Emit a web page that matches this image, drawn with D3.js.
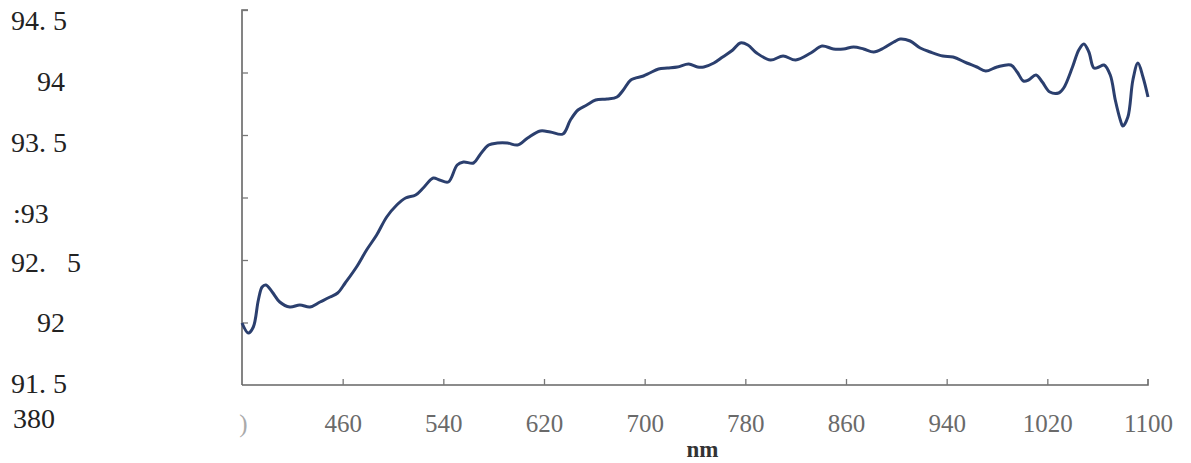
<!DOCTYPE html>
<html>
<head>
<meta charset="utf-8">
<script src="https://cdn.jsdelivr.net/npm/d3@7/dist/d3.min.js"></script>
<style>
  html, body { margin: 0; padding: 0; background: #fff; }
  svg { display: block; }
</style>
</head>
<body>
<svg id="chart" width="1191" height="463"></svg>
<script>
// ---- data ----
const wavelengths = [380,385,389,393,396,399,404,410,418,426,434,442,450,456,462,471,479,487,495,503,510,518,524,532,537,544,551,556,564,569,576,583,591,599,607,617,625,635,641,647,654,661,670,678,683,689,699,704,711,718,726,735,742,747,755,762,770,776,782,789,800,810,820,832,841,850,858,866,874,882,890,898,903,911,919,927,937,945,956,964,971,980,991,996,1001,1005,1011,1016,1022,1029,1033,1040,1045,1049,1053,1057,1061,1065,1070,1074,1078,1080,1084,1088,1092,1096,1100];
const reflectance = [91.996,91.916,91.964,92.18,92.284,92.30,92.244,92.164,92.124,92.14,92.124,92.164,92.204,92.236,92.316,92.444,92.58,92.70,92.844,92.94,92.996,93.02,93.076,93.156,93.14,93.124,93.26,93.284,93.276,93.34,93.42,93.436,93.436,93.42,93.476,93.532,93.524,93.508,93.62,93.70,93.74,93.78,93.788,93.804,93.86,93.94,93.972,93.996,94.028,94.036,94.044,94.068,94.044,94.044,94.076,94.124,94.18,94.236,94.22,94.156,94.10,94.132,94.10,94.156,94.212,94.188,94.188,94.204,94.188,94.164,94.196,94.244,94.268,94.252,94.196,94.164,94.132,94.124,94.076,94.044,94.012,94.044,94.06,94.004,93.932,93.94,93.98,93.924,93.844,93.836,93.876,94.044,94.18,94.228,94.164,94.036,94.044,94.06,93.98,93.78,93.62,93.572,93.644,93.94,94.076,93.964,93.804];
const xTickValues = [380,460,540,620,700,780,860,940,1020,1100];
const xTickLabels = [")","460","540","620","700","780","860","940","1020","1100"];
const yTickValues = [94.5,94,93.5,93,92.5,92,91.5];
const yTickLabels = ["94. 5","94","93. 5",":93","92.   5","92","91. 5"];
const strayLabel = "380";
const xAxisTitle = "nm";

// ---- layout ----
const svg = d3.select("#chart");
const plot = { left: 242, right: 1148, top: 10, bottom: 385 };
const x = d3.scaleLinear().domain([380, 1100]).range([plot.left, plot.right]);
const y = d3.scaleLinear().domain([91.5, 94.5]).range([plot.bottom, plot.top]);

svg.append("rect").attr("width", 1191).attr("height", 463).attr("fill", "#fff");

// y axis (ticks pointing inward, labels drawn separately at far left)
const yAxis = d3.axisRight(y).tickValues(yTickValues).tickSize(6).tickFormat("");
const gy = svg.append("g").attr("transform", `translate(${plot.left},0)`).call(yAxis);
gy.select(".domain").attr("stroke", "#666").attr("stroke-width", 1.6).attr("d", `M6,${plot.top}H0V${plot.bottom}`);
gy.selectAll(".tick line").attr("stroke", "#777").attr("stroke-width", 1.3);
gy.selectAll(".tick").filter(d => d === 91.5).remove();

// x axis (ticks pointing up)
const xAxis = d3.axisBottom(x).tickValues(xTickValues).tickSize(0).tickPadding(0)
  .tickFormat((d, i) => xTickLabels[i]);
const gx = svg.append("g").attr("transform", `translate(0,${plot.bottom})`).call(xAxis);
gx.select(".domain").attr("stroke", "#666").attr("stroke-width", 1.6).attr("d", `M${plot.left},0H${plot.right}V-6`);
gx.selectAll(".tick line").attr("y2", -6).attr("stroke", "#777").attr("stroke-width", 1.3);
gx.selectAll(".tick").filter(d => d === 380 || d === 1100).select("line").remove();
gx.selectAll(".tick text")
  .attr("y", 47).attr("dy", 0)
  .attr("font-family", "'Liberation Serif', serif")
  .attr("font-size", 25)
  .attr("fill", "#6a6a6a");
gx.selectAll(".tick").filter(d => d === 380).select("text").attr("fill", "#aaa").attr("dx", 1);

// x axis title
svg.append("text")
  .attr("x", x(746)).attr("y", 457)
  .attr("text-anchor", "middle")
  .attr("font-family", "'Liberation Serif', serif")
  .attr("font-weight", "bold")
  .attr("font-size", 23)
  .attr("fill", "#333")
  .text(xAxisTitle);

// stray left labels (as in the source)
const yLabelX = [11, 37, 11, 13, 11, 37, 11];
const yLabelDy = [20, 18.5, 17, 25.5, 12, 9.5, 8];
svg.append("g").selectAll("text")
  .data(yTickValues)
  .join("text")
  .attr("x", (d, i) => yLabelX[i])
  .attr("y", (d, i) => y(d) + yLabelDy[i])
  .style("white-space", "pre")
  .attr("font-family", "'Liberation Serif', serif")
  .attr("font-size", 28)
  .attr("fill", "#222")
  .text((d, i) => yTickLabels[i]);
svg.append("text")
  .attr("x", 13).attr("y", y(91.5) + 43)
  .attr("font-family", "'Liberation Serif', serif")
  .attr("font-size", 28)
  .attr("fill", "#222")
  .text(strayLabel);

// curve
const line = d3.line()
  .x((d, i) => x(wavelengths[i]))
  .y(d => y(d))
  .curve(d3.curveCatmullRom.alpha(0.5));
svg.append("path")
  .datum(reflectance)
  .attr("fill", "none")
  .attr("stroke", "#2b3f6e")
  .attr("stroke-width", 3)
  .attr("stroke-linejoin", "round")
  .attr("d", line);
</script>
</body>
</html>
